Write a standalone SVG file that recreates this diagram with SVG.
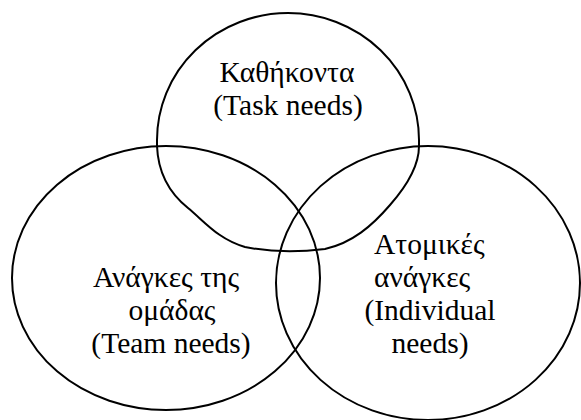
<svg xmlns="http://www.w3.org/2000/svg" width="581" height="420" viewBox="0 0 581 420">
<style>
.shape{fill:none;stroke:#000;stroke-width:2;stroke-linejoin:round}
text{font-family:"Liberation Serif","Times New Roman",serif;font-size:29.5px;fill:#000}
.m{text-anchor:middle}
</style>
<rect width="581" height="420" fill="#fff"/>
<g id="connectors"></g>
<g id="task">
<path class="shape" d="M157,146 L157,140 A131,127 0 0 1 419,140 L419,146 C419,168 405,188 390,205 C372,226 352,243 325,249 C300,252 270,252 245,247 C218,239 205,222 188,208 C168,192 158,172 157,146 Z"/>
<text class="m" x="287" y="82">Καθήκοντα</text>
<text class="m" x="288" y="115">(Task needs)</text>
</g>
<g id="team">
<ellipse class="shape" cx="166" cy="278" rx="154" ry="132"/>
<text class="m" x="166" y="287">Ανάγκες της</text>
<text class="m" x="172" y="320">ομάδας</text>
<text class="m" x="171" y="353">(Team needs)</text>
</g>
<g id="individual">
<ellipse class="shape" cx="428" cy="283" rx="152" ry="137"/>
<text x="374" y="254">Ατομικές</text>
<text x="374" y="287">ανάγκες</text>
<text class="m" x="430" y="320">(Individual</text>
<text class="m" x="430" y="353">needs)</text>
</g>
</svg>
